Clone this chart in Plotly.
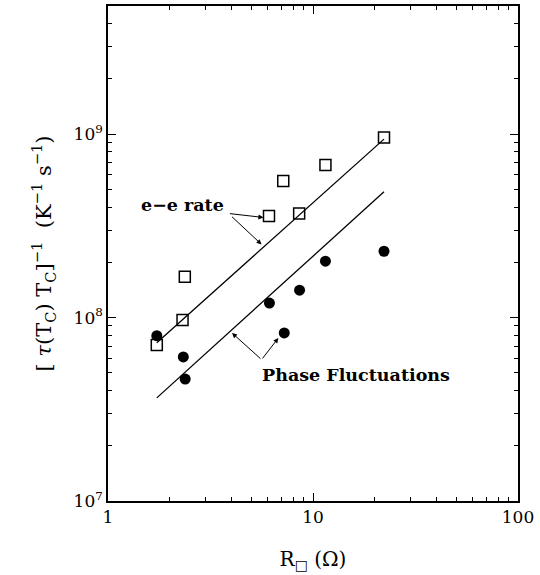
import plotly.graph_objects as go
import numpy as np

# Data
r_sq = [1.73, 2.31, 2.37, 6.1, 7.16, 8.56, 11.5, 22.2]
ee_rate = [7.1e7, 9.7e7, 1.67e8, 3.58e8, 5.56e8, 3.69e8, 6.8e8, 9.6e8]

r_circ = [1.73, 2.33, 2.38, 6.13, 7.24, 8.6, 11.5, 22.2]
phase_fl = [7.97e7, 6.1e7, 4.62e7, 1.20e8, 8.25e7, 1.41e8, 2.03e8, 2.30e8]

fit_x = [1.73, 22.2]
ee_fit = [7.3e7, 9.4e8]
pf_fit = [3.65e7, 4.85e8]

x_tickvals = [1, 10, 100]
x_ticktext = ["1", "10", "100"]
y_tickvals = [1e7, 1e8, 1e9]
y_ticktext = ["10<sup>7</sup>", "10<sup>8</sup>", "10<sup>9</sup>"]

FONT = "DejaVu Serif"
YMAX = np.log10(5e9)

fig = go.Figure()
fig.add_trace(go.Scatter(x=fit_x, y=ee_fit, mode="lines",
                         line=dict(color="black", width=1.3), showlegend=False))
# second fit line lives on the mirrored (top/right) axes, which share identical ranges
fig.add_trace(go.Scatter(x=fit_x, y=pf_fit, mode="lines", xaxis="x2", yaxis="y2",
                         line=dict(color="black", width=1.3), showlegend=False))
fig.add_trace(go.Scatter(x=r_sq, y=ee_rate, mode="markers",
                         marker=dict(symbol="square-open", size=11, color="black",
                                     line=dict(width=1.5, color="black")),
                         showlegend=False))
fig.add_trace(go.Scatter(x=r_circ, y=phase_fl, mode="markers",
                         marker=dict(symbol="circle", size=11, color="black"),
                         showlegend=False))

minor_x = [v * d for d in (1, 10) for v in range(2, 10)]
minor_y = [v * d for d in (1e7, 1e8, 1e9) for v in range(2, 10) if v * d <= 5e9]

axis_common = dict(showgrid=False, zeroline=False, showline=True, linecolor="black",
                   linewidth=1.6, ticks="inside", ticklen=8, tickwidth=1.3,
                   tickcolor="black",
                   tickfont=dict(family=FONT, size=17, color="black"))
minor_common = dict(tickmode="array", ticks="inside", ticklen=4, tickwidth=1.2,
                    tickcolor="black", showgrid=False)

fig.update_layout(
    xaxis=dict(type="log", range=[0, 2], tickmode="array", tickvals=x_tickvals,
               ticktext=x_ticktext, minor=dict(tickvals=minor_x, **minor_common),
               title=dict(text="R<sub>□</sub> (Ω)", font=dict(family=FONT, size=20, color="black"),
                          standoff=26),
               **axis_common),
    yaxis=dict(type="log", range=[7, YMAX], tickmode="array", tickvals=y_tickvals,
               ticktext=y_ticktext, minor=dict(tickvals=minor_y, **minor_common),
               title=dict(text="[ <i>τ</i>(T<sub>C</sub>) T<sub>C</sub>]<sup>−1</sup>  (K<sup>−1</sup> s<sup>−1</sup>)",
                          font=dict(family=FONT, size=21, color="black"), standoff=16),
               **axis_common),
    xaxis2=dict(type="log", range=[0, 2], overlaying="x", side="top", anchor="y2",
                tickmode="array", tickvals=x_tickvals, showticklabels=False,
                minor=dict(tickvals=minor_x, **minor_common), **axis_common),
    yaxis2=dict(type="log", range=[7, YMAX], overlaying="y", side="right", anchor="x2",
                tickmode="array", tickvals=y_tickvals, showticklabels=False,
                minor=dict(tickvals=minor_y, **minor_common), **axis_common),
)

ann_font = dict(family=FONT, size=17.5, color="black")
fig.add_annotation(x=0.362, y=8.612, xref="x", yref="y", text="<b>e−e rate</b>",
                   showarrow=False, font=ann_font)
fig.add_annotation(x=0.758, y=8.546, xref="x", yref="y", text="", showarrow=True,
                   ax=-35, ay=-4, arrowhead=2, arrowsize=1, arrowwidth=1, arrowcolor="black")
fig.add_annotation(x=0.749, y=8.399, xref="x", yref="y", text="", showarrow=True,
                   ax=-31, ay=-29, arrowhead=2, arrowsize=1, arrowwidth=1, arrowcolor="black")

fig.add_annotation(x=1.208, y=7.689, xref="x", yref="y", text="<b>Phase Fluctuations</b>",
                   showarrow=False, font=ann_font)
fig.add_annotation(x=0.605, y=7.916, xref="x", yref="y", text="", showarrow=True,
                   ax=30, ay=27, arrowhead=2, arrowsize=1, arrowwidth=1, arrowcolor="black")
fig.add_annotation(x=0.831, y=7.889, xref="x", yref="y", text="", showarrow=True,
                   ax=-17, ay=22, arrowhead=2, arrowsize=1, arrowwidth=1, arrowcolor="black")

fig.update_layout(width=540, height=575, margin=dict(l=108, r=17, t=6, b=74),
                  paper_bgcolor="white", plot_bgcolor="white", showlegend=False)

fig.write_html("out.html")
